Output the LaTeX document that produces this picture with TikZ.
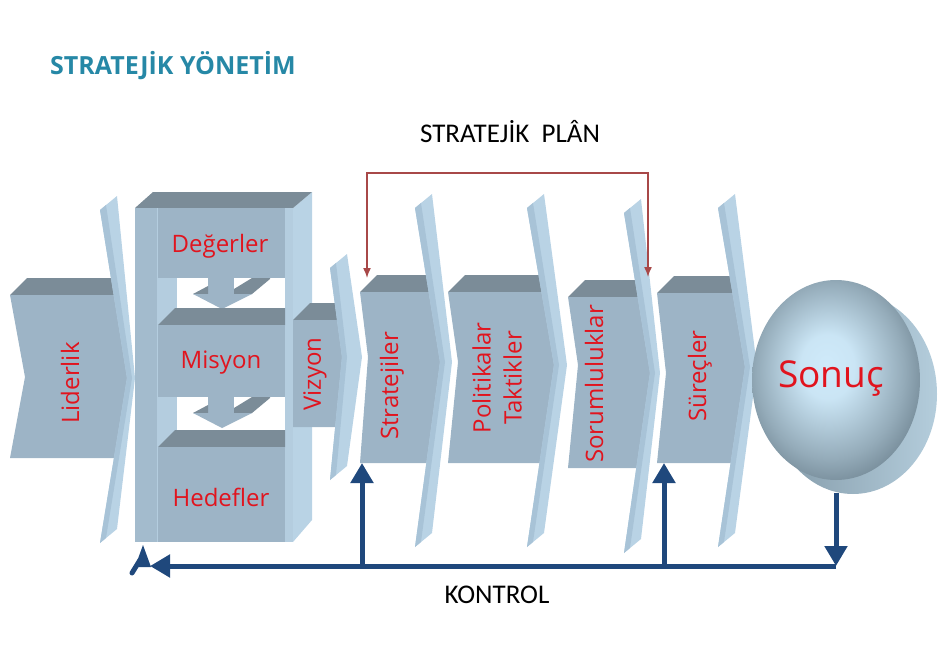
\documentclass[tikz,border=0pt]{standalone}
\usepackage{fontspec}
\setmainfont{Open Sans}
\newfontfamily\calfont{Carlito}
\usetikzlibrary{arrows.meta,shapes.geometric}

\definecolor{face}{HTML}{9DB4C6}
\definecolor{topf}{HTML}{7B8C98}
\definecolor{plate}{HTML}{B9D3E5}
\definecolor{plateshd}{HTML}{A8C3D7}
\definecolor{framelt}{HTML}{B4CDDF}
\definecolor{colshd}{HTML}{A3BBCD}
\definecolor{ctlblue}{HTML}{1F487C}
\definecolor{planred}{HTML}{A84848}
\definecolor{lblred}{HTML}{E1141E}
\definecolor{titleteal}{HTML}{2688A6}
\definecolor{sonin}{HTML}{CFEAFA}
\definecolor{sonmid}{HTML}{94ABB9}
\definecolor{sonout}{HTML}{5B6F7C}
\definecolor{sonsidea}{HTML}{8299A7}
\definecolor{sonsideb}{HTML}{B4CDDC}
\pgfdeclareradialshading{sonball}{\pgfpoint{-3bp}{4bp}}{color(0bp)=(sonin); color(8bp)=(sonin!92!sonmid); color(22bp)=(sonmid); color(34bp)=(sonout); color(50bp)=(sonout)}

\begin{document}
\begin{tikzpicture}[x=1pt,y=-1pt,
  lbl/.style={text=lblred,font=\fontsize{24}{31}\selectfont,inner sep=0pt},
  vlbl/.style={lbl,rotate=90,align=center},
  front/.style={fill=face},
  topface/.style={fill=topf},
  plt/.style={fill=plate},
  ctl/.style={draw=ctlblue,line width=5pt,-{Triangle[length=20pt,width=22pt]}},
  planln/.style={draw=planred,line width=1.5pt,{Latex[length=10pt,width=8pt]}-{Latex[length=10pt,width=8pt]}},
  head/.style={font=\calfont\fontsize{27}{30}\selectfont,inner sep=0pt},
]
\useasboundingbox (0,0) rectangle (938,651);

% ===== titles =====
\node[anchor=base west,text=titleteal,inner sep=0pt,font=\bfseries\fontsize{25}{30}\selectfont]
  (title) at (50,74) {STRATEJİK YÖNETİM};
\node[head,anchor=base] (plan) at (510,142) {STRATEJİK\ \ PLÂN};

% ===== blocks with their plates =====
% left x / top y / bottom y / notch y / notch / plate L / T / B / M / a / r
\foreach \xa/\yt/\yb/\ym/\nd/\L/\T/\B/\M/\a/\r in {10/295/458/377/15/100/210/543/378/27/35,
    -1/0/0/0/0/0/0/0/0/0/0,
    293/320/427/374/0/330/268/480/357/12/32,
    360/292/463/357/8/415/208/547/362/25/37,
    448/292/463/362/10/527/208/547/365/27/40,
    568/297/468/365/10/624/213/553/373/26/36,
    657/293/463/373/9/718/208/547/367/27/39}{
  \ifnum\xa<0
    % ===== frame: Degerler / Misyon / Hedefler =====
    \fill[plt] (293,208) -- (312,192) -- (312,520) -- (293,542) -- cycle;
    \fill[topface] (135,208) -- (153,192) -- (312,192) -- (293,208) -- cycle;
    \fill[fill=framelt] (135,208) rectangle (293,542);
    \fill[fill=colshd] (135,208) rectangle (157,542);
    \fill[front] (158,208) rectangle (285,278);
    \fill[white] (177,278) rectangle (285,308);
    \fill[white] (177,397) rectangle (285,430);
    \foreach \g in {278,397}{
      \fill[front] (208,\g) rectangle (234,\g+16);
      \fill[topface] (234,\g+16) -- (252,\g+16) -- (270,\g+1) -- (270,\g) -- (252,\g) -- (234,\g+11) -- cycle;
      \fill[topface] (193,\g+16) -- (208,\g+16) -- (208,\g+8) -- cycle;
      \fill[front] (193,\g+16) -- (252,\g+16) -- (222,\g+31) -- cycle;
    }
    \fill[topface] (158,325) -- (175,308) -- (285,308) -- (285,325) -- cycle;
    \fill[front] (158,325) rectangle (285,397);
    \fill[topface] (158,447) -- (175,430) -- (285,430) -- (285,447) -- cycle;
    \fill[front] (158,447) rectangle (285,542);
  \else
    \fill[topface] (\xa,\yt) -- (\xa+17,\yt-17)
      -- ({\L+\a*(\yt-17-\T)/(\M-\T)+2},\yt-17) -- ({\L+\a*(\yt-\T)/(\M-\T)+2},\yt) -- cycle;
    \fill[front] (\xa,\yt) -- ({\L+\a*(\yt-\T)/(\M-\T)+2},\yt) -- (\L+\a+3,\M)
      -- ({\L+\a*(\B-\yb)/(\B-\M)+2},\yb) -- (\xa,\yb) -- (\xa+\nd,\ym) -- cycle;
    \fill[plt] (\L,\T) -- (\L+17,\T-14) -- (\L+\r,\M) -- (\L+17,\B-14) -- (\L,\B) -- (\L+\a,\M) -- cycle;
    \fill[fill=plateshd] (\L,\T) -- (\L+6,\T-5) -- (\L+\a+5,\M) -- (\L+6,\B-5) -- (\L,\B) -- (\L+\a,\M) -- cycle;
  \fi
}

% ===== Sonuc =====
\shade[left color=sonsidea,right color=sonsideb] (853,394) ellipse [x radius=84,y radius=100];
\node[ellipse,minimum width=168pt,minimum height=200pt,inner sep=0pt,shade,
  shading=sonball] (son) at (836,380) {};
\node[lbl,font=\fontsize{37}{40}\selectfont] (sonl) at (831,379) {Sonuç};

% ===== labels =====
\node[vlbl] (lid) at (70,383) {Liderlik};
\node[lbl] (deg) at (220,246) {Değerler};
\node[lbl] (mis) at (221,363) {Misyon};
\node[lbl] (hed) at (221,497) {Hedefler};
\node[vlbl] (viz) at (315,374) {Vizyon};
\node[vlbl] (str) at (392,386) {Stratejiler};
\node[vlbl] (pol) at (497,378) {Politikalar\\Taktikler};
\node[vlbl] (sor) at (594,384) {Sorumluluklar};
\node[vlbl] (sur) at (700,376) {Süreçler};

% ===== strategic plan bracket =====
\coordinate (strT) at (367,278);
\coordinate (surT) at (648,277);
\coordinate (pm) at (508,173);
\draw[planln] (strT) |- (pm) -| (surT);

% ===== control loop =====
\coordinate (sonB) at (836,493);
\coordinate (kR) at (836,566);
\coordinate (kL) at (150,566);
\coordinate (k1) at (362,566);
\coordinate (k2) at (664,566);
\coordinate (strB) at (362,463);
\coordinate (surB) at (664,463);
\draw[ctl] (sonB) -- (kR);
\draw[ctl] (kR) -- (kL);
\draw[ctl] (k1) -- (strB);
\draw[ctl] (k2) -- (surB);
\coordinate (kg) at (132,573);
\coordinate (kgt) at (140,560);
\draw[draw=ctlblue,line width=5pt,line cap=round] (kg) -- (kgt);
\fill[ctlblue] (135,567) -- (151,567) -- (143,545) -- cycle;
\node[head,anchor=base] (kon) at (497,603) {KONTROL};
\end{tikzpicture}
\end{document}
